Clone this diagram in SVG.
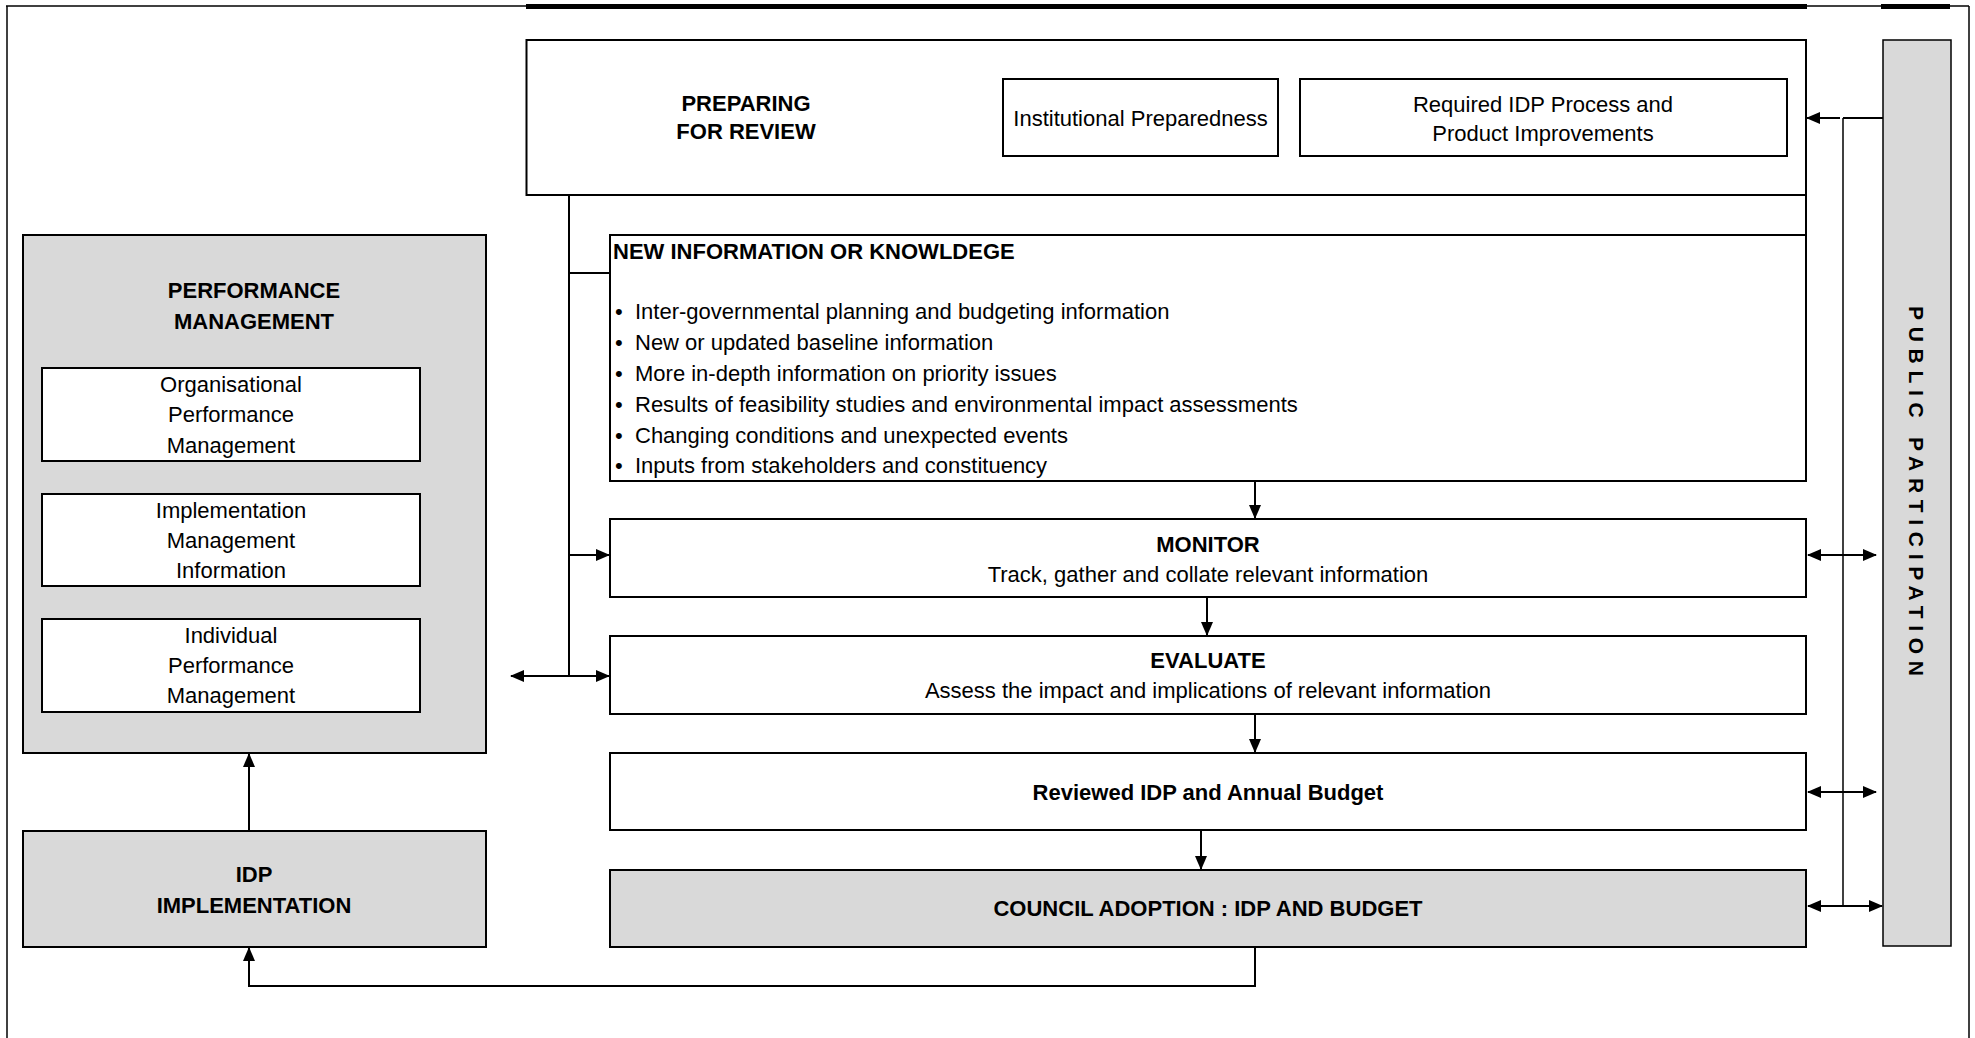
<svg xmlns="http://www.w3.org/2000/svg" width="1975" height="1038" viewBox="0 0 1975 1038">
  <style>
    .box{fill:#fff;stroke:#000;stroke-width:2}
    .grey{fill:#d9d9d9;stroke:#000;stroke-width:2}
    .t{font-family:"Liberation Sans",Arial,sans-serif;font-size:22px;fill:#000}
    .b{font-weight:bold}
    .c{text-anchor:middle}
    .ln{fill:none;stroke:#000;stroke-width:2}
    .thin{fill:none;stroke:#000;stroke-width:1.5}
    .arr{marker-end:url(#ah)}
    .dbl{marker-start:url(#ah);marker-end:url(#ah)}
  </style>
  <defs>
    <marker id="ah" markerUnits="userSpaceOnUse" viewBox="0 0 14 12" markerWidth="14" markerHeight="12" refX="13" refY="6" orient="auto-start-reverse">
      <path d="M0,0 L14,6 L0,12 z" fill="#000"/>
    </marker>
  </defs>
  <rect width="1975" height="1038" fill="#fff"/>

  <!-- page frame -->
  <g id="frame">
    <line class="thin" x1="7" y1="6" x2="7" y2="1038"/>
    <line class="thin" x1="6" y1="6" x2="1969" y2="6"/>
    <line class="thin" x1="1969" y1="6" x2="1969" y2="1038"/>
    <rect x="526" y="4" width="1281" height="5" fill="#000"/>
    <rect x="1881" y="4" width="69" height="5" fill="#000"/>
  </g>

  <!-- connectors -->
  <g id="connectors">
    <path class="ln" d="M1806,195 V235"/>
    <path class="ln" d="M1883,118 H1843"/>
    <path class="thin" d="M1843,118 V906"/>
    <path class="ln arr" d="M1840,118 H1807"/>
    <path class="ln dbl" d="M1808,555 H1876"/>
    <path class="ln dbl" d="M1808,792 H1876"/>
    <path class="ln dbl" d="M1808,906 H1882"/>
    <path class="ln" d="M569,195 V676"/>
    <path class="ln" d="M569,273 H610"/>
    <path class="ln arr" d="M569,555 H609"/>
    <path class="ln dbl" d="M511,676 H609"/>
    <path class="ln arr" d="M1255,481 V518"/>
    <path class="ln arr" d="M1207,597 V635"/>
    <path class="ln arr" d="M1255,714 V752"/>
    <path class="ln arr" d="M1201,830 V869"/>
    <path class="ln arr" d="M1255,947 V986 H249 V948"/>
    <path class="ln arr" d="M249,831 V754"/>
  </g>

  <g id="preparing">
    <rect class="box" x="526.5" y="40" width="1279.5" height="155"/>
    <text class="t b c" x="746" y="111">PREPARING</text>
    <text class="t b c" x="746" y="139">FOR REVIEW</text>
  </g>
  <g id="institutional">
    <rect class="box" x="1003" y="79" width="275" height="77"/>
    <text class="t c" x="1140.5" y="126">Institutional Preparedness</text>
  </g>
  <g id="required">
    <rect class="box" x="1300" y="79" width="487" height="77"/>
    <text class="t c" x="1543" y="112">Required IDP Process and</text>
    <text class="t c" x="1543" y="141">Product Improvements</text>
  </g>

  <g id="new-information">
    <rect class="box" x="610" y="235" width="1196" height="246"/>
    <text class="t b" x="613" y="259">NEW INFORMATION OR KNOWLDEGE</text>
    <text class="t" y="319"><tspan x="615">•</tspan><tspan x="635">Inter-governmental planning and budgeting information</tspan></text>
    <text class="t" y="350"><tspan x="615">•</tspan><tspan x="635">New or updated baseline information</tspan></text>
    <text class="t" y="381"><tspan x="615">•</tspan><tspan x="635">More in-depth information on priority issues</tspan></text>
    <text class="t" y="412"><tspan x="615">•</tspan><tspan x="635">Results of feasibility studies and environmental impact assessments</tspan></text>
    <text class="t" y="443"><tspan x="615">•</tspan><tspan x="635">Changing conditions and unexpected events</tspan></text>
    <text class="t" y="473"><tspan x="615">•</tspan><tspan x="635">Inputs from stakeholders and constituency</tspan></text>
  </g>

  <g id="monitor">
    <rect class="box" x="610" y="519" width="1196" height="78"/>
    <text class="t b c" x="1208" y="552">MONITOR</text>
    <text class="t c" x="1208" y="582">Track, gather and collate relevant information</text>
  </g>
  <g id="evaluate">
    <rect class="box" x="610" y="636" width="1196" height="78"/>
    <text class="t b c" x="1208" y="668">EVALUATE</text>
    <text class="t c" x="1208" y="698">Assess the impact and implications of relevant information</text>
  </g>
  <g id="reviewed">
    <rect class="box" x="610" y="753" width="1196" height="77"/>
    <text class="t b c" x="1208" y="800">Reviewed IDP and Annual Budget</text>
  </g>
  <g id="council-adoption">
    <rect class="grey" x="610" y="870" width="1196" height="77"/>
    <text class="t b c" x="1208" y="916">COUNCIL ADOPTION : IDP AND BUDGET</text>
  </g>

  <g id="performance-management">
    <rect class="grey" x="23" y="235" width="463" height="518"/>
    <text class="t b c" x="254" y="298">PERFORMANCE</text>
    <text class="t b c" x="254" y="329">MANAGEMENT</text>
    <g id="organisational">
      <rect class="box" x="42" y="368" width="378" height="93"/>
      <text class="t c" x="231" y="392">Organisational</text>
      <text class="t c" x="231" y="422">Performance</text>
      <text class="t c" x="231" y="453">Management</text>
    </g>
    <g id="implementation-info">
      <rect class="box" x="42" y="494" width="378" height="92"/>
      <text class="t c" x="231" y="518">Implementation</text>
      <text class="t c" x="231" y="548">Management</text>
      <text class="t c" x="231" y="578">Information</text>
    </g>
    <g id="individual">
      <rect class="box" x="42" y="619" width="378" height="93"/>
      <text class="t c" x="231" y="643">Individual</text>
      <text class="t c" x="231" y="673">Performance</text>
      <text class="t c" x="231" y="703">Management</text>
    </g>
  </g>

  <g id="idp-implementation">
    <rect class="grey" x="23" y="831" width="463" height="116"/>
    <text class="t b c" x="254" y="882">IDP</text>
    <text class="t b c" x="254" y="913">IMPLEMENTATION</text>
  </g>

  <g id="public-participation">
    <rect fill="#d9d9d9" stroke="#000" stroke-width="1.5" x="1883" y="40" width="68" height="906"/>
    <text class="t b c" style="font-size:21px" transform="translate(1909,491) rotate(90)" textLength="370" lengthAdjust="spacing">PUBLIC PARTICIPATION</text>
  </g>
</svg>
